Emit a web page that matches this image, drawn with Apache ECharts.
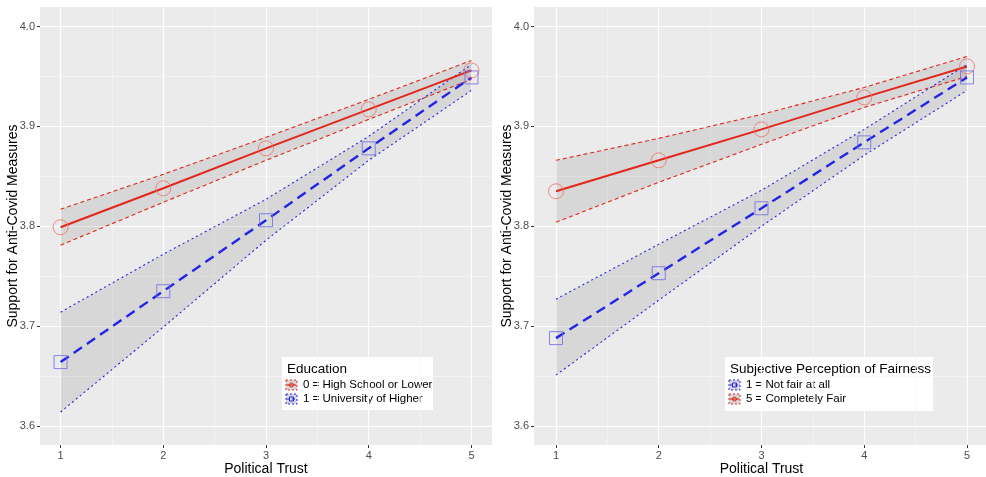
<!DOCTYPE html>
<html><head><meta charset="utf-8">
<script src="https://cdn.jsdelivr.net/npm/echarts@6/dist/echarts.min.js"></script>
<style>html,body{margin:0;padding:0;background:#fff}#c{width:986px;height:477px}</style>
</head><body><div id="c"></div>
<script>
// ---- data ----
const trust = [1, 2, 3, 4, 5];
const xTicks = [1, 2, 3, 4, 5];
const xMinor = [1.5, 2.5, 3.5, 4.5];
const yTicks = [3.6, 3.7, 3.8, 3.9, 4.0];
const yMinor = [3.65, 3.75, 3.85, 3.95];

// Left panel: Education
const eduLowMean  = [3.799, 3.838, 3.878, 3.917, 3.956];
const eduLowLower = [3.781, 3.824, 3.866, 3.907, 3.947];
const eduLowUpper = [3.817, 3.852, 3.889, 3.927, 3.966];
const eduHighMean  = [3.664, 3.735, 3.806, 3.878, 3.949];
const eduHighLower = [3.614, 3.699, 3.786, 3.866, 3.936];
const eduHighUpper = [3.714, 3.772, 3.827, 3.890, 3.962];

// Right panel: Subjective Perception of Fairness
const fairLowMean  = [3.688, 3.753, 3.818, 3.884, 3.949];
const fairLowLower = [3.651, 3.726, 3.800, 3.871, 3.936];
const fairLowUpper = [3.727, 3.782, 3.836, 3.897, 3.962];
const fairHighMean  = [3.835, 3.866, 3.897, 3.929, 3.960];
const fairHighLower = [3.804, 3.844, 3.882, 3.919, 3.950];
const fairHighUpper = [3.866, 3.888, 3.912, 3.939, 3.970];

const xTitle = 'Political Trust';
const yTitle = 'Support for Anti-Covid Measures';
const legendLeftTitle = 'Education';
const legendLeftItems = ['0 = High School or Lower', '1 = University of Higher'];
const legendRightTitle = 'Subjective Perception of Fairness';
const legendRightItems = ['1 = Not fair at all', '5 = Completely Fair'];

// ---- styles ----
const RED = '#E3261B', BLUE = '#2424E6';
const RED_PT = '#EE7066', BLUE_PT = '#6A6AEA';
const FONT = '"Liberation Sans", Arial, sans-serif';
const YMIN = 3.581, YMAX = 4.0195;

const chart = echarts.init(document.getElementById('c'), null, {renderer: 'canvas'});

function pairs(xs, ys) { return xs.map((x, i) => [x, ys[i]]); }

function mainX(gi, min, max) {
  return {
    type: 'value', gridIndex: gi, min: min, max: max,
    name: xTitle, nameLocation: 'middle', nameGap: 17, nameMoveOverlap: false,
    nameTextStyle: {fontFamily: FONT, fontSize: 14, color: '#000'},
    axisLine: {show: false},
    axisTick: {show: true, length: 3, lineStyle: {color: '#333', width: 1}, customValues: xTicks},
    axisLabel: {show: true, margin: 5, fontFamily: FONT, fontSize: 11, color: '#4D4D4D', customValues: xTicks, formatter: v => String(v)},
    splitLine: {show: true, lineStyle: {color: '#FFFFFF', width: 1.2}}
  };
}
function minorX(gi, min, max) {
  return {
    type: 'value', gridIndex: gi, min: min, max: max,
    axisLine: {show: false}, axisTick: {show: false, customValues: xMinor},
    axisLabel: {show: false, customValues: xMinor},
    splitLine: {show: true, lineStyle: {color: '#F6F6F6', width: 0.7}}
  };
}
function mainY(gi) {
  return {
    type: 'value', gridIndex: gi, min: YMIN, max: YMAX,
    name: yTitle, nameLocation: 'middle', nameGap: 20, nameRotate: 90, nameMoveOverlap: false,
    nameTextStyle: {fontFamily: FONT, fontSize: 14, color: '#000'},
    axisLine: {show: false},
    axisTick: {show: true, length: 3, lineStyle: {color: '#333', width: 1}, customValues: yTicks},
    axisLabel: {show: true, margin: 5, fontFamily: FONT, fontSize: 11, color: '#4D4D4D', customValues: yTicks, formatter: v => v.toFixed(1)},
    splitLine: {show: true, lineStyle: {color: '#FFFFFF', width: 1.2}}
  };
}
function minorY(gi) {
  return {
    type: 'value', gridIndex: gi, min: YMIN, max: YMAX,
    axisLine: {show: false}, axisTick: {show: false, customValues: yMinor},
    axisLabel: {show: false, customValues: yMinor},
    splitLine: {show: true, lineStyle: {color: '#F6F6F6', width: 0.7}}
  };
}

function ribbon(xi, yi, lower, upper) {
  return {
    type: 'custom', xAxisIndex: xi, yAxisIndex: yi, silent: true, z: 1,
    data: trust.map((x, i) => [x, lower[i], upper[i]]),
    renderItem: function (params, api) {
      if (params.dataIndex !== 0) return null;
      const pts = [];
      for (let i = 0; i < trust.length; i++) pts.push(api.coord([trust[i], upper[i]]));
      for (let i = trust.length - 1; i >= 0; i--) pts.push(api.coord([trust[i], lower[i]]));
      return {type: 'polygon', shape: {points: pts}, style: {fill: 'rgba(120,120,120,0.17)'}};
    }
  };
}
function bound(xi, yi, ys, color, dash) {
  return {type: 'line', xAxisIndex: xi, yAxisIndex: yi, data: pairs(trust, ys), showSymbol: false, silent: true, z: 3,
    lineStyle: {color: color, width: 1.1, type: dash}};
}
function mean(xi, yi, ys, color, dash, w) {
  return {type: 'line', xAxisIndex: xi, yAxisIndex: yi, data: pairs(trust, ys), showSymbol: false, silent: true, z: 4,
    lineStyle: {color: color, width: w, type: dash}};
}
function pts(xi, yi, ys, color, sym, size) {
  return {type: 'scatter', xAxisIndex: xi, yAxisIndex: yi, data: pairs(trust, ys), symbol: sym, symbolSize: size, silent: true, z: 5,
    itemStyle: {color: 'rgba(0,0,0,0)', borderColor: color, borderWidth: 1}};
}

function legendGlyph(x, y, color, dash, sym) {
  const mark = sym === 'circle'
    ? {type: 'circle', shape: {cx: x + 5.5, cy: y + 5, r: 2}, style: {fill: 'none', stroke: color, lineWidth: 1}}
    : {type: 'rect', shape: {x: x + 3.5, y: y + 3, width: 4, height: 4}, style: {fill: 'none', stroke: color, lineWidth: 1}};
  return [
    {type: 'rect', shape: {x: x, y: y, width: 11, height: 10}, style: {fill: '#D6D6D6', stroke: color, lineWidth: 1, lineDash: [2, 2]}},
    {type: 'line', shape: {x1: x + 1, y1: y + 5, x2: x + 10, y2: y + 5}, style: {stroke: color, lineWidth: 1.2, lineDash: dash}},
    mark
  ];
}
function legendBox(x, y, w, h, title, items, colors, dashes, syms) {
  const ch = [{type: 'rect', shape: {x: x, y: y, width: w, height: h}, style: {fill: '#FFFFFF'}},
    {type: 'text', x: x + 5, y: y + 12, style: {text: title, font: '13.5px ' + FONT, fill: '#000', verticalAlign: 'middle'}}];
  items.forEach((t, i) => {
    const yy = y + 23 + i * 14;
    legendGlyph(x + 4, yy, colors[i], dashes[i], syms[i]).forEach(c => ch.push(c));
    ch.push({type: 'text', x: x + 21, y: yy + 5, style: {text: t, font: '11.5px ' + FONT, fill: '#000', verticalAlign: 'middle'}});
  });
  return {type: 'group', z: 100, children: ch};
}

const option = {
  backgroundColor: '#FFFFFF',
  animation: false,
  grid: [
    {left: 40, top: 7, width: 452, height: 438, show: true, backgroundColor: '#EBEBEB', borderWidth: 0, containLabel: false, outerBoundsMode: 'none'},
    {left: 534, top: 7, width: 455, height: 438, show: true, backgroundColor: '#EBEBEB', borderWidth: 0, containLabel: false, outerBoundsMode: 'none'}
  ],
  xAxis: [mainX(0, 0.8, 5.2), minorX(0, 0.8, 5.2), mainX(1, 0.786, 5.214), minorX(1, 0.786, 5.214)],
  yAxis: [mainY(0), minorY(0), mainY(1), minorY(1)],
  series: [
    ribbon(0, 0, eduLowLower, eduLowUpper),
    ribbon(0, 0, eduHighLower, eduHighUpper),
    bound(0, 0, eduLowLower, RED, [4, 3]), bound(0, 0, eduLowUpper, RED, [4, 3]),
    bound(0, 0, eduHighLower, BLUE, [2, 3]), bound(0, 0, eduHighUpper, BLUE, [2, 3]),
    mean(0, 0, eduLowMean, RED, 'solid', 2),
    mean(0, 0, eduHighMean, BLUE, [10, 6], 2.4),
    pts(0, 0, eduLowMean, RED_PT, 'circle', 15),
    pts(0, 0, eduHighMean, BLUE_PT, 'rect', 13),

    ribbon(2, 2, fairHighLower, fairHighUpper),
    ribbon(2, 2, fairLowLower, fairLowUpper),
    bound(2, 2, fairHighLower, RED, [4, 3]), bound(2, 2, fairHighUpper, RED, [4, 3]),
    bound(2, 2, fairLowLower, BLUE, [2, 3]), bound(2, 2, fairLowUpper, BLUE, [2, 3]),
    mean(2, 2, fairHighMean, RED, 'solid', 2),
    mean(2, 2, fairLowMean, BLUE, [10, 6], 2.4),
    pts(2, 2, fairHighMean, RED_PT, 'circle', 15),
    pts(2, 2, fairLowMean, BLUE_PT, 'rect', 13)
  ],
  graphic: [
    legendBox(282, 357, 151, 53, legendLeftTitle, legendLeftItems, [RED, BLUE], [[], [3, 2]], ['circle', 'rect']),
    legendBox(725, 357, 208, 54, legendRightTitle, legendRightItems, [BLUE, RED], [[3, 2], []], ['rect', 'circle'])
  ]
};
chart.setOption(option);
</script></body></html>
